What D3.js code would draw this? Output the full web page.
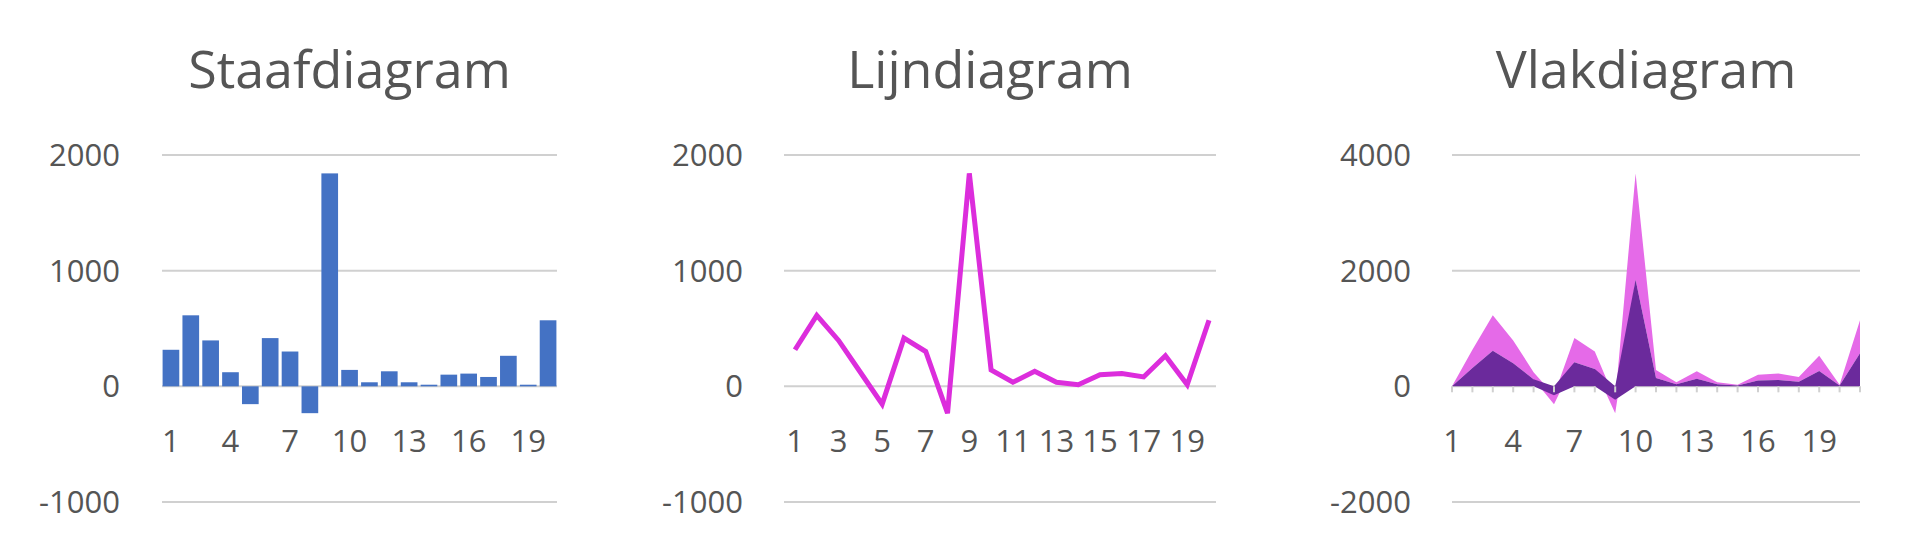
<!DOCTYPE html>
<html><head><meta charset="utf-8">
<script src="https://cdn.jsdelivr.net/npm/d3@7"></script>
<style>body{margin:0;background:#fff}text{font-family:"Open Sans",sans-serif;fill:#555}</style>
</head><body><svg id="c" width="1920" height="544"></svg>
<script>
// data
const titles = ["Staafdiagram", "Lijndiagram", "Vlakdiagram"];
const categories = d3.range(1, 21);
const values = [316, 614, 397, 122, -154, 417, 301, -232, 1841, 142, 35, 130, 35, 14, 101, 110, 81, 264, 14, 571];
const areaCategories = d3.range(1, 22);
const areaValues = [0].concat(values);
const ticks12 = [-1000, 0, 1000, 2000];
const ticks3 = [-2000, 0, 2000, 4000];

const svg = d3.select("#c");
const plotTop = 155, plotBottom = 502;
const gray = "#d0d0d0";

function panel(i, x0, x1, labelRight, ticks) {
  const g = svg.append("g");
  g.append("text").attr("x", (x0 + x1) / 2 - 10).attr("y", 88).attr("text-anchor", "middle")
    .attr("font-size", 52).text(titles[i]);
  const y = d3.scaleLinear().domain([ticks[0], ticks[3]]).range([plotBottom, plotTop]);
  g.selectAll(".grid").data(ticks).join("line")
    .attr("x1", x0).attr("x2", x1).attr("y1", d => y(d)).attr("y2", d => y(d))
    .attr("stroke", gray).attr("stroke-width", 2);
  g.selectAll(".yl").data(ticks).join("text")
    .attr("x", labelRight).attr("y", d => y(d) + 11).attr("text-anchor", "end")
    .attr("font-size", 31).text(d => d);
  return { g, y };
}

// bar chart
{
  const { g, y } = panel(0, 162, 557, 120, ticks12);
  const x = d3.scaleBand().domain(categories).range([162, 557]).paddingInner(0.16).paddingOuter(0.03);
  g.selectAll("rect").data(values).join("rect")
    .attr("x", (d, i) => x(categories[i])).attr("width", x.bandwidth())
    .attr("y", d => y(Math.max(0, d))).attr("height", d => Math.abs(y(d) - y(0)))
    .attr("fill", "#4472c4");
  g.selectAll(".xl").data(categories.filter((d, i) => i % 3 === 0)).join("text")
    .attr("x", d => x(d) + x.bandwidth() / 2).attr("y", 452).attr("text-anchor", "middle")
    .attr("font-size", 31).text(d => d);
}

// line chart
{
  const { g, y } = panel(1, 784, 1216, 743, ticks12);
  const x = d3.scalePoint().domain(categories).range([795, 1209]);
  g.append("path").datum(values)
    .attr("d", d3.line().x((d, i) => x(categories[i])).y(d => y(d)))
    .attr("fill", "none").attr("stroke", "#dc2ddc").attr("stroke-width", 5).attr("stroke-linejoin", "miter");
  g.selectAll(".xl").data(categories.filter((d, i) => i % 2 === 0)).join("text")
    .attr("x", d => x(d)).attr("y", 452).attr("text-anchor", "middle")
    .attr("font-size", 31).text(d => d);
}

// area chart (same series stacked twice)
{
  const { g, y } = panel(2, 1452, 1860, 1411, ticks3);
  const x = d3.scalePoint().domain(areaCategories).range([1452, 1860]);
  const rows = areaValues.map((v, i) => ({ c: areaCategories[i], a: v, b: v }));
  const stack = d3.stack().keys(["a", "b"]).offset(d3.stackOffsetDiverging)(rows);
  const area = d3.area().x(d => x(d.data.c)).y0(d => y(d[0])).y1(d => y(d[1]));
  g.selectAll(".ar").data(stack.slice().reverse()).join("path")
    .attr("d", area).attr("fill", (d, i) => i === 0 ? "#e56ae8" : "#6b2a9c");
  g.selectAll(".tk").data(areaCategories).join("line")
    .attr("x1", d => x(d)).attr("x2", d => x(d)).attr("y1", y(0)).attr("y2", y(0) + 6)
    .attr("stroke", gray).attr("stroke-width", 2);
  g.selectAll(".xl").data(areaCategories.filter((d, i) => i % 3 === 0 && d < 21)).join("text")
    .attr("x", d => x(d)).attr("y", 452).attr("text-anchor", "middle")
    .attr("font-size", 31).text(d => d);
}
</script></body></html>
